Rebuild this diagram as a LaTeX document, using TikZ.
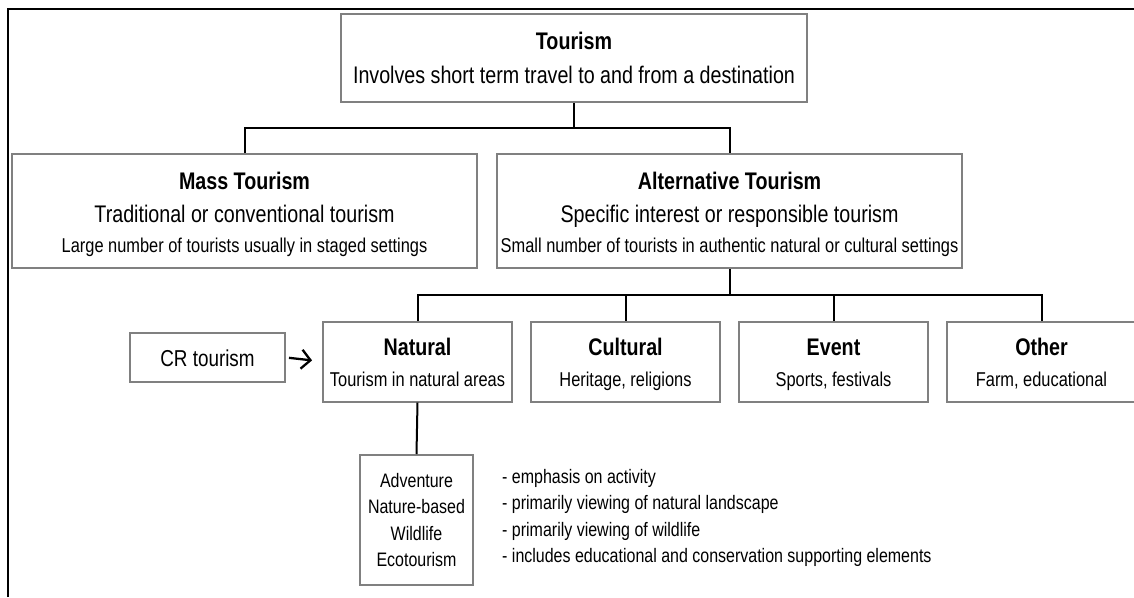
\documentclass[tikz,border=0pt]{standalone}
\usepackage{fontspec}
\setmainfont{Liberation Sans}[FakeStretch=0.82]
\usetikzlibrary{arrows.meta,calc}
\tikzset{
  box/.style={draw=black!50, line width=2pt, inner sep=0pt, rectangle, fill=white},
  conn/.style={draw=black, line width=2pt},
  arr/.style={draw=black, line width=2.3pt, -{Straight Barb[length=9pt,width=19pt]}, shorten <=3pt, shorten >=10pt},
  frameline/.style={draw=black, line width=1.6pt},
  tbig/.style={anchor=base, inner sep=0pt, font=\fontsize{24}{28}\selectfont},
  tbold/.style={anchor=base, inner sep=0pt, font=\fontsize{24}{28}\selectfont\bfseries},
  tsmall/.style={anchor=base, inner sep=0pt, font=\fontsize{20}{24}\selectfont},
  tlist/.style={anchor=base, inner sep=0pt, font=\fontsize{19.5}{24}\selectfont},
  tbullet/.style={anchor=base west, inner sep=0pt, font=\fontsize{19.5}{24}\selectfont},
}
\begin{document}
\begin{tikzpicture}[x=1pt,y=-1pt]
\fill[white] (0,0) rectangle (1134,597);
\clip (0,0) rectangle (1134,597);
% outer frame
\draw[frameline] (8,597) -- (8,9) -- (1134,9);

% boxes
\node[box, minimum width=466pt, minimum height=88pt] (tour) at (574,58) {};
\node[box, minimum width=465pt, minimum height=114pt] (mass) at (244.5,211) {};
\node[box, minimum width=465pt, minimum height=114pt] (alt) at (729.5,211) {};
\node[box, minimum width=189pt, minimum height=80pt] (nat) at (417.5,361.5) {};
\node[box, minimum width=189pt, minimum height=80pt] (cul) at (625.5,361.5) {};
\node[box, minimum width=189pt, minimum height=80pt] (evt) at (833.5,361.5) {};
\node[box, minimum width=196pt, minimum height=80pt] (oth) at (1045,361.5) {};
\node[box, minimum width=155pt, minimum height=49pt] (cr) at (207.5,357.5) {};
\node[box, minimum width=113pt, minimum height=130pt] (sub) at (416.5,520) {};

% texts
\node[tbold] (t1) at (574,49) {Tourism};
\node[tbig] (t2) at (574,83) {Involves short term travel to and from a destination};

\node[tbold] (m1) at (244.5,189) {Mass Tourism};
\node[tbig] (m2) at (244.5,222) {Traditional or conventional tourism};
\node[tsmall] (m3) at (244.5,252) {Large number of tourists usually in staged settings};

\node[tbold] (a1) at (729.5,189) {Alternative Tourism};
\node[tbig] (a2) at (729.5,222) {Specific interest or responsible tourism};
\node[tsmall] (a3) at (729.5,252) {Small number of tourists in authentic natural or cultural settings};

\node[tbold] (n1) at (417.5,355) {Natural};
\node[tsmall] (n2) at (417.5,386) {Tourism in natural areas};
\node[tbold] (c1) at (625.5,355) {Cultural};
\node[tsmall] (c2) at (625.5,386) {Heritage, religions};
\node[tbold] (e1) at (833.5,355) {Event};
\node[tsmall] (e2) at (833.5,386) {Sports, festivals};
\node[tbold] (o1) at (1041.5,355) {Other};
\node[tsmall] (o2) at (1041.5,386) {Farm, educational};

\node[anchor=base, inner sep=0pt, font=\fontsize{23}{28}\selectfont] (crt) at (207.5,366) {CR tourism};

\node[tlist] (s1) at (416.5,487) {Adventure};
\node[tlist] (s2) at (416.5,513.5) {Nature-based};
\node[tlist] (s3) at (416.5,540) {Wildlife};
\node[tlist] (s4) at (416.5,566.5) {Ecotourism};

\node[tbullet] (b1) at (502,483) {- emphasis on activity};
\node[tbullet] (b2) at (502,509.5) {- primarily viewing of natural landscape};
\node[tbullet] (b3) at (502,536) {- primarily viewing of wildlife};
\node[tbullet] (b4) at (502,562.5) {- includes educational and conservation supporting elements};

% connectors
\coordinate (j1) at (574,128);
\coordinate (j2) at (729.5,295);
\draw[conn] (tour.south) -- (j1);
\draw[conn] (mass.north) |- (j1) -| (alt.north);
\draw[conn] (alt.south) -- (j2);
\draw[conn] (nat.north) |- (j2) -| (o1 |- oth.north);
\draw[conn] (cul.north) -- (cul.north |- j2);
\draw[conn] (evt.north) -- (evt.north |- j2);
\draw[conn] (nat.south) -- (sub.north);
\draw[arr] (cr.east) -- (nat.west);
\end{tikzpicture}
\end{document}
